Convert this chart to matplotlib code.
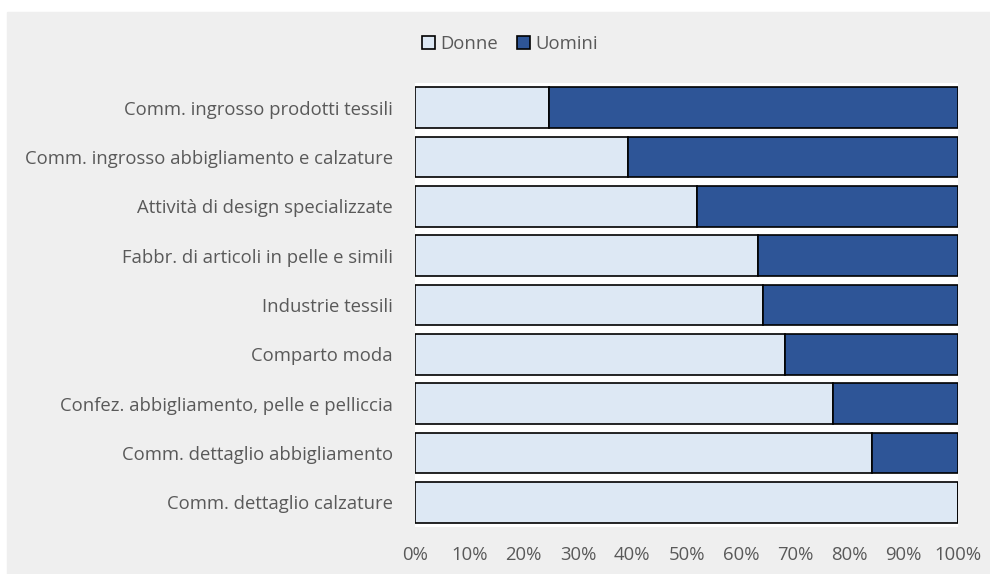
import matplotlib.pyplot as plt
from matplotlib.patches import Rectangle
from matplotlib.ticker import PercentFormatter

settori = [
    'Comm. ingrosso prodotti tessili',
    'Comm. ingrosso abbigliamento e calzature',
    'Attività di design specializzate',
    'Fabbr. di articoli in pelle e simili',
    'Industrie tessili',
    'Comparto moda',
    'Confez. abbigliamento, pelle e pelliccia',
    'Comm. dettaglio abbigliamento',
    'Comm. dettaglio calzature',
]
donne = [24.7, 39.2, 51.9, 63.2, 64.1, 68.1, 77.0, 84.2, 100.0]
uomini = [100 - d for d in donne]

plt.rcParams['font.family'] = ['Open Sans', 'DejaVu Sans']
grigio = '#595959'
fs = 13.3

fig = plt.figure(figsize=(9.9, 5.74), dpi=100)
fig.patches.append(Rectangle((7 / 990, 0), 1, (574 - 12) / 574,
                             transform=fig.transFigure, color='#efefef', zorder=-10))
ax = fig.add_axes([415 / 990, 47 / 574, 543 / 990, 444 / 574])
ax.set_facecolor('white')

y = list(range(len(settori)))[::-1]
ax.barh(y, donne, height=0.83, color='#dde8f4', edgecolor='black', linewidth=1.2, label='Donne')
ax.barh(y, uomini, left=donne, height=0.83, color='#2e5597', edgecolor='black', linewidth=1.2, label='Uomini')

ax.set_xlim(0, 100)
ax.set_ylim(-0.5, len(settori) - 0.5)
ax.set_yticks(y)
ax.set_yticklabels(settori)
ax.set_xticks(range(0, 101, 10))
ax.xaxis.set_major_formatter(PercentFormatter(decimals=0))
ax.tick_params(axis='y', length=0, pad=16, labelsize=fs, labelcolor=grigio)
ax.tick_params(axis='x', length=0, pad=14, labelsize=fs, labelcolor=grigio)
for s in ax.spines.values():
    s.set_visible(False)

fig.legend(loc='center', bbox_to_anchor=(510 / 990, 1 - 44 / 574), ncol=2, frameon=False,
           fontsize=fs, labelcolor=grigio, handlelength=0.7, handleheight=0.7,
           handletextpad=0.3, columnspacing=1.0)

fig.savefig('out.png', dpi=100)
